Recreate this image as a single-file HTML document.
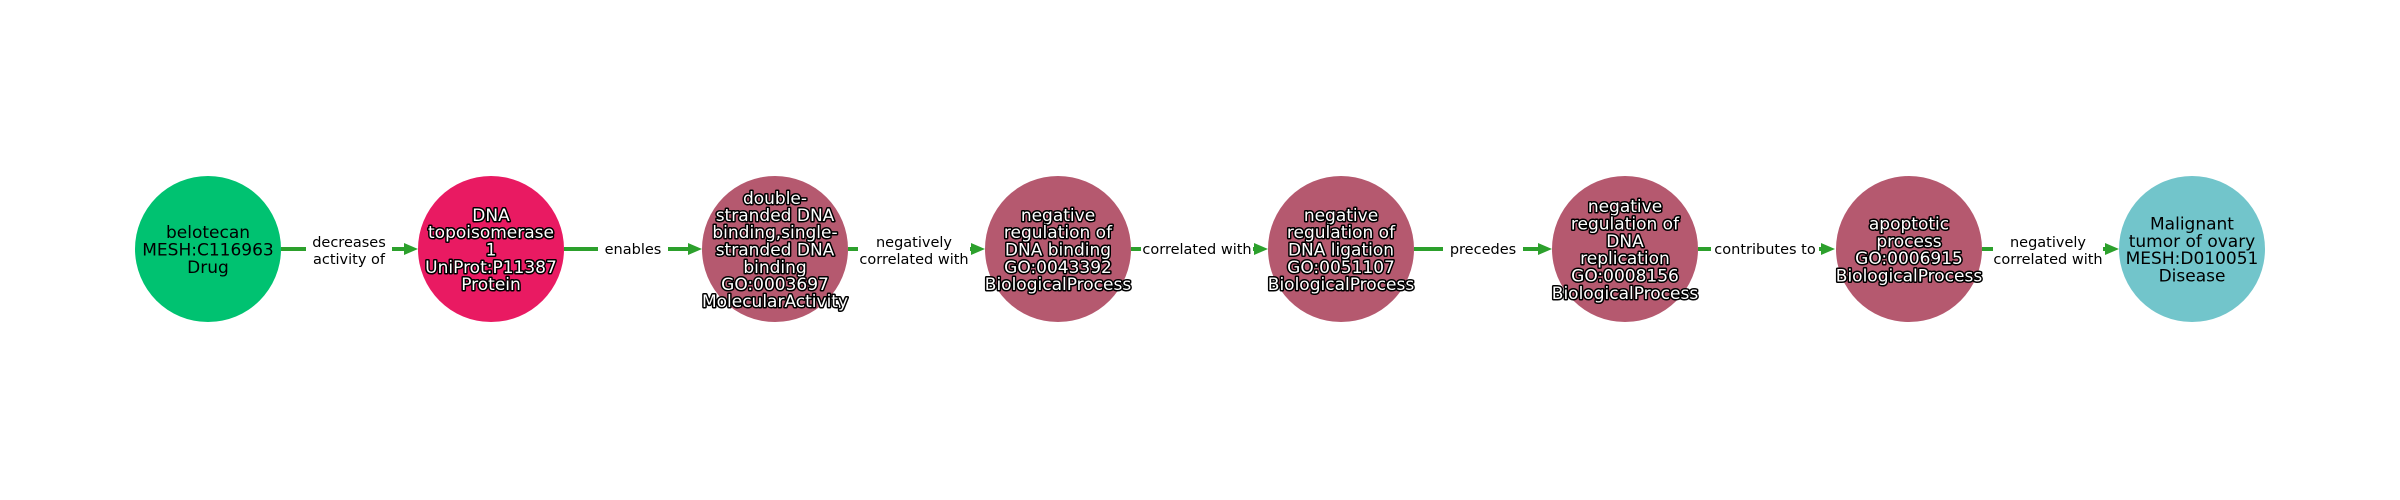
<!DOCTYPE html>
<html><head><meta charset="utf-8"><style>
html,body{margin:0;padding:0;background:#fff;}
svg{display:block;}
.n{font-family:"DejaVu Sans","Liberation Sans",sans-serif;font-size:17px;text-anchor:middle;}
.w{fill:#fff;stroke:#000;stroke-width:3px;paint-order:stroke;stroke-linejoin:round;}
.b{fill:#000;}
.e{font-family:"DejaVu Sans","Liberation Sans",sans-serif;font-size:14.5px;text-anchor:middle;fill:#000;}
</style></head><body>
<svg width="2400" height="500" viewBox="0 0 2400 500" xmlns="http://www.w3.org/2000/svg">
<g stroke="#2ca02c" stroke-width="4">
<line x1="281" y1="249" x2="408" y2="249"/>
<line x1="564" y1="249" x2="692" y2="249"/>
<line x1="848" y1="249" x2="975" y2="249"/>
<line x1="1131" y1="249" x2="1258" y2="249"/>
<line x1="1414" y1="249" x2="1542" y2="249"/>
<line x1="1698" y1="249" x2="1825" y2="249"/>
<line x1="1982" y1="249" x2="2108" y2="249"/>
</g>
<g fill="#fff">
<rect x="306" y="230" width="86" height="38"/>
<rect x="598" y="238" width="70" height="22"/>
<rect x="858" y="230" width="112" height="38"/>
<rect x="1141" y="238" width="112" height="22"/>
<rect x="1443" y="238" width="80" height="22"/>
<rect x="1711" y="238" width="108" height="22"/>
<rect x="1993" y="230" width="110" height="38"/>
</g>
<g fill="#2ca02c">
<polygon points="404,243 418,249 404,255"/>
<polygon points="688,243 702,249 688,255"/>
<polygon points="971,243 985,249 971,255"/>
<polygon points="1254,243 1268,249 1254,255"/>
<polygon points="1538,243 1552,249 1538,255"/>
<polygon points="1821,243 1835,249 1821,255"/>
<polygon points="2105,243 2119,249 2105,255"/>
</g>
<text class="e" x="349" y="247">decreases</text><text class="e" x="349" y="264">activity of</text>
<text class="e" x="633" y="254">enables</text>
<text class="e" x="914" y="247">negatively</text><text class="e" x="914" y="264">correlated with</text>
<text class="e" x="1197" y="254">correlated with</text>
<text class="e" x="1483" y="254">precedes</text>
<text class="e" x="1765" y="254">contributes to</text>
<text class="e" x="2048" y="247">negatively</text><text class="e" x="2048" y="264">correlated with</text>

<circle cx="208" cy="249" r="73" fill="#00c271"/>
<circle cx="491" cy="249" r="73" fill="#e91a62"/>
<circle cx="775" cy="249" r="73" fill="#b5596f"/>
<circle cx="1058" cy="249" r="73" fill="#b5596f"/>
<circle cx="1341" cy="249" r="73" fill="#b5596f"/>
<circle cx="1625" cy="249" r="73" fill="#b5596f"/>
<circle cx="1909" cy="249" r="73" fill="#b5596f"/>
<circle cx="2192" cy="249" r="73" fill="#72c5cb"/>

<text class="n b" x="208"><tspan x="208" y="238">belotecan</tspan><tspan x="208" y="255.5">MESH:C116963</tspan><tspan x="208" y="273">Drug</tspan></text>
<text class="n w" x="491"><tspan x="491" y="221">DNA</tspan><tspan x="491" y="238">topoisomerase</tspan><tspan x="491" y="255.5">1</tspan><tspan x="491" y="273">UniProt:P11387</tspan><tspan x="491" y="290">Protein</tspan></text>
<text class="n w" x="775"><tspan x="775" y="204">double-</tspan><tspan x="775" y="221">stranded DNA</tspan><tspan x="775" y="238">binding,single-</tspan><tspan x="775" y="255.5">stranded DNA</tspan><tspan x="775" y="273">binding</tspan><tspan x="775" y="290">GO:0003697</tspan><tspan x="775" y="307">MolecularActivity</tspan></text>
<text class="n w" x="1058"><tspan x="1058" y="221">negative</tspan><tspan x="1058" y="238">regulation of</tspan><tspan x="1058" y="255.5">DNA binding</tspan><tspan x="1058" y="273">GO:0043392</tspan><tspan x="1058" y="290">BiologicalProcess</tspan></text>
<text class="n w" x="1341"><tspan x="1341" y="221">negative</tspan><tspan x="1341" y="238">regulation of</tspan><tspan x="1341" y="255.5">DNA ligation</tspan><tspan x="1341" y="273">GO:0051107</tspan><tspan x="1341" y="290">BiologicalProcess</tspan></text>
<text class="n w" x="1625"><tspan x="1625" y="212">negative</tspan><tspan x="1625" y="229.5">regulation of</tspan><tspan x="1625" y="247">DNA</tspan><tspan x="1625" y="264">replication</tspan><tspan x="1625" y="281.5">GO:0008156</tspan><tspan x="1625" y="299">BiologicalProcess</tspan></text>
<text class="n w" x="1909"><tspan x="1909" y="229.5">apoptotic</tspan><tspan x="1909" y="247">process</tspan><tspan x="1909" y="264">GO:0006915</tspan><tspan x="1909" y="281.5">BiologicalProcess</tspan></text>
<text class="n b" x="2192"><tspan x="2192" y="229.5">Malignant</tspan><tspan x="2192" y="247">tumor of ovary</tspan><tspan x="2192" y="264">MESH:D010051</tspan><tspan x="2192" y="281.5">Disease</tspan></text>
</svg>
</body></html>
